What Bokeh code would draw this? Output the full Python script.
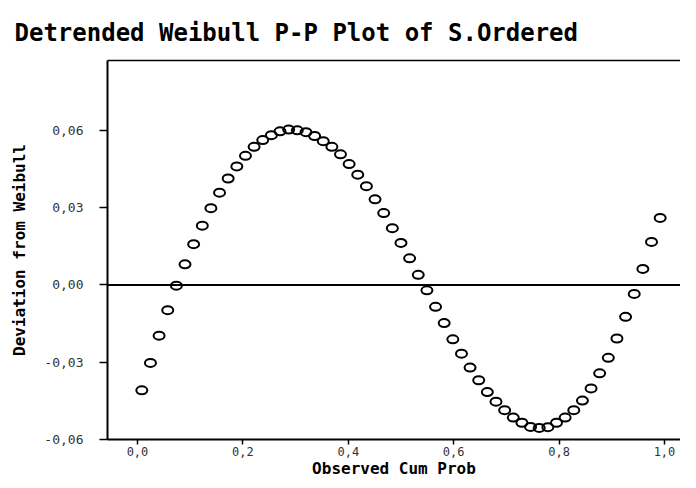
from bokeh.plotting import figure
from bokeh.models import Range1d, FixedTicker, LinearAxis, Span, Title
from bokeh.embed import file_html
from bokeh.resources import INLINE

# ---- data ----
observed_cum_prob = [
    0.0082, 0.0246, 0.0410, 0.0574, 0.0738, 0.0902, 0.1066, 0.1230, 0.1393, 0.1557,
    0.1721, 0.1885, 0.2049, 0.2213, 0.2377, 0.2541, 0.2705, 0.2869, 0.3033, 0.3197,
    0.3361, 0.3525, 0.3689, 0.3852, 0.4016, 0.4180, 0.4344, 0.4508, 0.4672, 0.4836,
    0.5000, 0.5164, 0.5328, 0.5492, 0.5656, 0.5820, 0.5984, 0.6148, 0.6311, 0.6475,
    0.6639, 0.6803, 0.6967, 0.7131, 0.7295, 0.7459, 0.7623, 0.7787, 0.7951, 0.8115,
    0.8279, 0.8443, 0.8607, 0.8770, 0.8934, 0.9098, 0.9262, 0.9426, 0.9590, 0.9754,
    0.9918,
]
deviation = [
    -0.0409, -0.0303, -0.0197, -0.0098, -0.0003, 0.0080, 0.0158, 0.0230, 0.0298, 0.0358,
    0.0413, 0.0460, 0.0501, 0.0536, 0.0562, 0.0581, 0.0596, 0.0603, 0.0600, 0.0593,
    0.0578, 0.0558, 0.0536, 0.0507, 0.0469, 0.0428, 0.0383, 0.0332, 0.0279, 0.0220,
    0.0163, 0.0103, 0.0039, -0.0021, -0.0085, -0.0148, -0.0211, -0.0267, -0.0321, -0.0370,
    -0.0416, -0.0453, -0.0486, -0.0515, -0.0535, -0.0551, -0.0555, -0.0552, -0.0535, -0.0515,
    -0.0486, -0.0449, -0.0402, -0.0343, -0.0283, -0.0208, -0.0124, -0.0035, 0.0062, 0.0167,
    0.0260,
]
x_ticks = [0.0, 0.2, 0.4, 0.6, 0.8, 1.0]
x_tick_labels = ["0,0", "0,2", "0,4", "0,6", "0,8", "1,0"]
y_ticks = [-0.06, -0.03, 0.0, 0.03, 0.06]
y_tick_labels = ["-0,06", "-0,03", "0,00", "0,03", "0,06"]

title_text = "Detrended Weibull P-P Plot of S.Ordered"
x_label = "Observed Cum Prob"
y_label = "Deviation from Weibull"

MONO = "DejaVu Sans Mono"

p = figure(
    width=680, height=480,
    output_backend="svg", toolbar_location=None,
    x_range=Range1d(-0.0569, 1.0304),
    y_range=Range1d(-0.06, 0.0871),
    min_border_left=107, min_border_right=0,
    min_border_top=60, min_border_bottom=40,
    background_fill_color="white", border_fill_color="white",
)
p.outline_line_color = None
p.grid.visible = False

p.title = Title(text=title_text, align="left", offset=-93,
                text_font=MONO, text_font_style="bold", text_font_size="24px",
                text_color="black", standoff=27)

# axes
xa = p.xaxis[0]
xa.ticker = FixedTicker(ticks=x_ticks)
xa.major_label_overrides = dict(zip(x_ticks, x_tick_labels))
xa.axis_label = x_label
ya = p.yaxis[0]
ya.ticker = FixedTicker(ticks=y_ticks)
ya.major_label_overrides = dict(zip(y_ticks, y_tick_labels))
ya.axis_label = y_label

for ax in (xa, ya):
    ax.axis_line_color = "black"
    ax.axis_line_width = 2
    ax.major_tick_line_color = "black"
    ax.major_tick_line_width = 1.5
    ax.major_tick_in = 0
    ax.minor_tick_line_color = None
    ax.major_label_text_font = MONO
    ax.major_label_text_color = "#333333"
    ax.axis_label_text_font = MONO
    ax.axis_label_text_font_style = "bold"
    ax.axis_label_text_color = "black"

xa.major_tick_out = 5
xa.major_label_standoff = 2
xa.axis_label_standoff = 0
xa.major_label_text_font_size = "12px"
xa.axis_label_text_font_size = "16px"

ya.major_tick_out = 8
ya.major_label_standoff = 16
ya.axis_label_standoff = 12
ya.major_label_text_font_size = "13px"
ya.axis_label_text_font_size = "16px"

# top border line
top = LinearAxis(ticker=FixedTicker(ticks=[]), axis_line_color="black",
                 axis_line_width=1.5, major_tick_line_color=None,
                 minor_tick_line_color=None, major_label_text_font_size="0px")
p.add_layout(top, "above")

# zero reference line
p.add_layout(Span(location=0, dimension="width", line_color="black", line_width=2))

# points (open ellipses)
p.ellipse(x=observed_cum_prob, y=deviation, width=11, height=8,
          width_units="screen", height_units="screen",
          fill_color=None, line_color="black", line_width=2)

open("out.html", "w").write(file_html(p, INLINE))
